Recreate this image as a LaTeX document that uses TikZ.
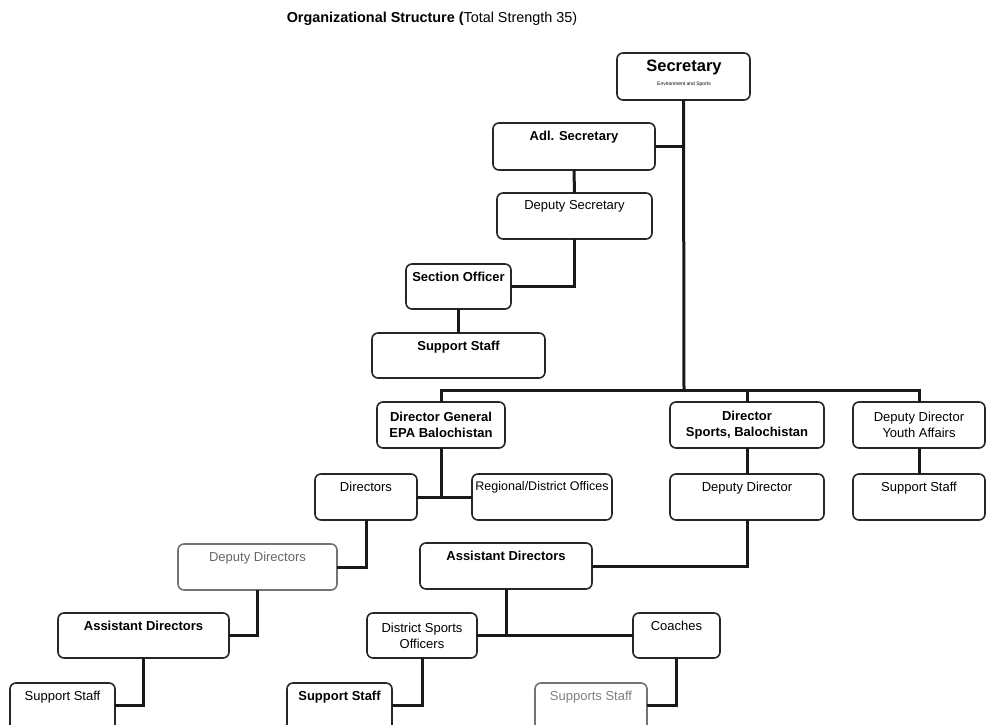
\documentclass[tikz,border=0pt]{standalone}
\usepackage{fontspec}
\setmainfont{Liberation Sans}
\begin{document}
\begin{tikzpicture}[x=1pt,y=-1pt,
  box/.style={draw=black!85, rounded corners=6pt, line width=1.6pt, inner sep=0pt, outer sep=0pt},
  faint/.style={draw=black!55},
  lab/.style={anchor=north, yshift=-7.5pt, inner sep=0pt, font=\fontsize{13}{14}\selectfont},
  labb/.style={lab, font=\fontsize{13}{14}\selectfont\bfseries},
  two/.style={align=center, font=\fontsize{13}{16}\selectfont},
  conn/.style={line width=3pt, draw=black!90}]
\useasboundingbox (0,0) rectangle (986,725);
\clip (0,0) rectangle (986,725);
\newcommand\orgbox[7]{\node[box,#6,minimum width={(#4-#2)*1pt},minimum height={(#5-#3)*1pt}] (#1) at ({(#2+#4)/2},{(#3+#5)/2}) {#7};}

\node[font=\fontsize{14.4}{17}\selectfont] (title) at (432,19) {\textbf{Organizational Structure (}Total Strength 35)};

% Secretary branch
\orgbox{sec}{617}{53}{750}{100}{}{}
\node[font=\fontsize{16.5}{18}\selectfont\bfseries, inner sep=0pt] (sect) at (684,67) {Secretary};
\node[font=\fontsize{5}{6}\selectfont, inner sep=0pt] (secs) at (684,84) {Environment and Sports};
\orgbox{adl}{493}{123}{655}{170}{label={[labb]north:Adl. Secretary}}{}
\orgbox{ds}{497}{193}{652}{239}{label={[lab]north:Deputy Secretary}}{}
\orgbox{so}{406}{264}{511}{309}{label={[labb]north:Section Officer}}{}
\orgbox{ssa}{372}{333}{545}{378}{label={[labb]north:Support Staff}}{}

% Top row
\orgbox{dg}{377}{402}{505}{448}{two}{\textbf{Director General}\\\textbf{EPA Balochistan}}
\orgbox{dsp}{670}{402}{824}{448}{two}{\textbf{Director}\\\textbf{Sports, Balochistan}}
\orgbox{ddy}{853}{402}{985}{448}{two}{Deputy Director\\Youth Affairs}

% Second row
\orgbox{dirs}{315}{474}{417}{520}{label={[lab]north:Directors}}{}
\orgbox{reg}{472}{474}{612}{520}{label={[lab,font=\fontsize{12.5}{14}\selectfont]north:Regional/District Offices}}{}
\orgbox{dd}{670}{474}{824}{520}{label={[lab]north:Deputy Director}}{}
\orgbox{ssy}{853}{474}{985}{520}{label={[lab]north:Support Staff}}{}

% Third row
\orgbox{dds}{178}{544}{337}{590}{faint,label={[lab,text=black!60]north:Deputy Directors}}{}
\orgbox{ads}{420}{543}{592}{589}{label={[labb]north:Assistant Directors}}{}

% Fourth row
\orgbox{ade}{58}{613}{229}{658}{label={[labb]north:Assistant Directors}}{}
\orgbox{dso}{367}{613}{477}{658}{two}{District Sports\\Officers}
\orgbox{coa}{633}{613}{720}{658}{label={[lab]north:Coaches}}{}

% Bottom row (cut off)
\orgbox{sse}{10}{683}{115}{740}{label={[lab]north:Support Staff}}{}
\orgbox{sss}{287}{683}{392}{740}{label={[labb]north:Support Staff}}{}
\orgbox{ssc}{535}{683}{647}{740}{faint,label={[lab,text=black!50]north:Supports Staff}}{}

\coordinate (bar) at (684,390);

% Connectors
\draw[conn] (sec.south) -- (bar);
\draw[conn] (adl.east) -- (adl.east -| sec.south);
\draw[conn] (adl.south) -- (ds.north);
\draw[conn] (ds.south) |- (so.east);
\draw[conn] (so.south) -- (so.south |- ssa.north);
\draw[conn] (dg.north) |- (bar) -| (ddy.north);
\draw[conn] (dsp.north) -- (dsp.north |- bar);
\draw[conn] (dg.south) -- (dg.south |- dirs.east);
\draw[conn] (dirs.east) -- (reg.west);
\draw[conn] (dsp.south) -- (dd.north);
\draw[conn] (ddy.south) -- (ssy.north);
\draw[conn] (dirs.south) |- (dds.east);
\draw[conn] (dd.south) |- (ads.east);
\draw[conn] (dds.south) |- (ade.east);
\draw[conn] (ads.south) -- (ads.south |- dso.east);
\draw[conn] (dso.east) -- (coa.west);
\draw[conn] (ade.south) |- ([yshift=6.5pt]sse.east);
\draw[conn] (dso.south) |- ([yshift=6.5pt]sss.east);
\draw[conn] (coa.south) |- ([yshift=6.5pt]ssc.east);
\end{tikzpicture}
\end{document}
